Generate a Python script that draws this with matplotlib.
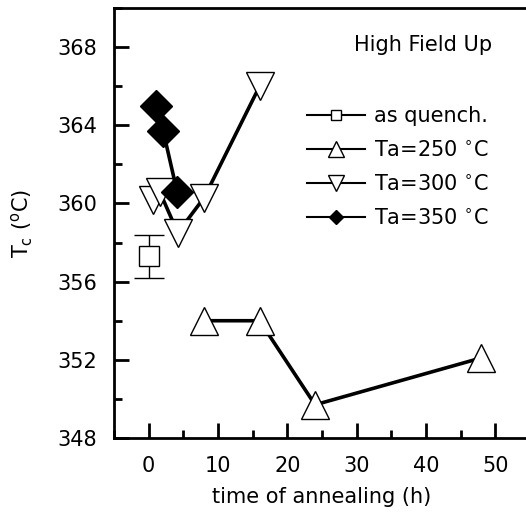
import matplotlib
matplotlib.use('Agg')
import matplotlib.pyplot as plt
from matplotlib.ticker import MultipleLocator

plt.rcParams['font.family'] = ['DejaVu Sans']
plt.rcParams['mathtext.fontset'] = 'dejavusans'

# data
quench_x = [0]
quench_y = [357.3]
quench_err = [1.1]

t250_x = [8, 16, 24, 48]
t250_y = [354.0, 354.0, 349.7, 352.1]

t300_x = [0.6, 1.6, 4.2, 8, 16]
t300_y = [360.2, 360.6, 358.5, 360.3, 366.0]

t350_x = [1.1, 2.1, 4.1]
t350_y = [365.0, 363.7, 360.6]

W, H = 526, 512
fig = plt.figure(figsize=(W / 100, H / 100), dpi=100)
ax = fig.add_axes([114 / W, 1 - 438 / H, 416 / W, 430 / H])

lw = 2.6
ax.errorbar(quench_x, quench_y, yerr=quench_err, fmt='s', ms=15, mfc='white',
            mec='black', mew=1, ecolor='black', elinewidth=1, capsize=11,
            capthick=1, zorder=3)
ax.plot(t250_x, t250_y, '-^', color='black', lw=lw, ms=20, mfc='white',
        mec='black', mew=1, zorder=3)
ax.plot(t300_x, t300_y, '-v', color='black', lw=lw, ms=20, mfc='white',
        mec='black', mew=1, zorder=3)
ax.plot(t350_x, t350_y, '-D', color='black', lw=lw, ms=16, mfc='black',
        mec='black', mew=1, zorder=4)

# legend uses small markers
h1, = ax.plot([], [], '-s', color='black', lw=1.5, ms=7, mfc='white', mew=1)
h2, = ax.plot([], [], '-^', color='black', lw=1.5, ms=11, mfc='white', mew=1)
h3, = ax.plot([], [], '-v', color='black', lw=1.5, ms=11, mfc='white', mew=1)
h4, = ax.plot([], [], '-D', color='black', lw=1.5, ms=7, mfc='black', mew=1)
ax.legend([h1, h2, h3, h4],
          ['as quench.', 'Ta=250 $^{\\circ}$C', 'Ta=300 $^{\\circ}$C', 'Ta=350 $^{\\circ}$C'],
          loc='upper left', bbox_to_anchor=(307 / W, 1 - 106 / H),
          bbox_transform=fig.transFigure, frameon=False, borderpad=0,
          fontsize=15, handlelength=2.8, handletextpad=0.4, labelspacing=0.68,
          borderaxespad=0)

fig.text(492 / W, 1 - 45 / H, 'High Field Up', fontsize=15,
         ha='right', va='center')

ax.set_xlim(-5, 55)
ax.set_ylim(348, 370)
ax.xaxis.set_major_locator(MultipleLocator(10))
ax.xaxis.set_minor_locator(MultipleLocator(5))
ax.yaxis.set_major_locator(MultipleLocator(4))
ax.yaxis.set_minor_locator(MultipleLocator(2))
ax.tick_params(which='both', direction='in', width=2, labelsize=15)
ax.tick_params(axis='y', pad=12)
ax.tick_params(axis='x', pad=13)
ax.tick_params(which='major', length=11)
ax.tick_params(which='minor', length=6)
for s in ax.spines.values():
    s.set_linewidth(2)

ax.set_xlabel('time of annealing (h)', fontsize=15, labelpad=8)
ax.set_ylabel('T$_\\mathrm{c}$ ($^\\mathrm{o}$C)', fontsize=15, labelpad=16)

fig.savefig('out.png', dpi=100)
